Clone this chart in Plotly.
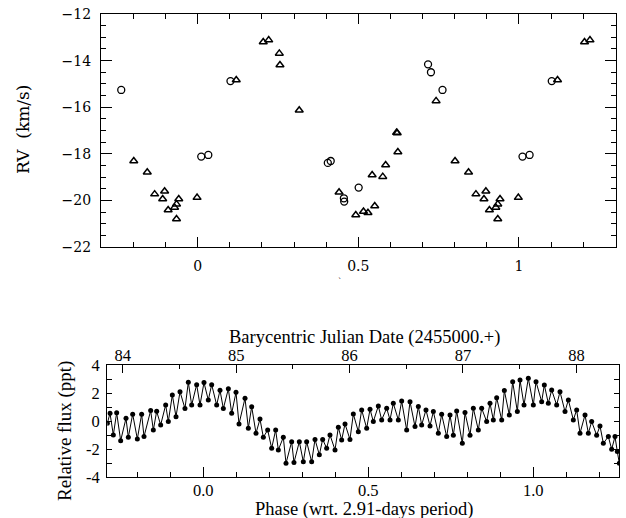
import plotly.graph_objects as go

# ---- RV data (phase folded, 0..1) ----
circ_phase = [0.011, 0.033, 0.102, 0.405, 0.414, 0.455, 0.456, 0.501, 0.717, 0.726, 0.762]
circ_rv = [-18.12, -18.05, -14.88, -18.39, -18.31, -19.91, -20.05, -19.45, -14.16, -14.50, -15.26]

tri_phase = [0.120, 0.204, 0.221, 0.254, 0.256, 0.316, 0.440, 0.492, 0.516, 0.530,
             0.551, 0.543, 0.576, 0.585, 0.619, 0.621, 0.623, 0.742, 0.801, 0.843,
             0.866, 0.897, 0.891, 0.908, 0.928, 0.934, 0.941, 0.934, 0.998]
tri_rv = [-14.83, -13.20, -13.12, -13.69, -14.19, -16.13, -19.65, -20.63, -20.48, -20.53,
          -20.24, -18.91, -18.98, -18.48, -17.09, -17.11, -17.92, -15.73, -18.31, -18.79,
          -19.73, -19.61, -19.94, -20.41, -20.30, -20.16, -19.94, -20.80, -19.88]

# ---- light curve (phase, relative flux in ppt) ----
lc_phase = [-0.2908, -0.2827, -0.2726, -0.2625, -0.2504, -0.2342, -0.2272, -0.2140, -0.1999, -0.1868,
            -0.1797, -0.1595, -0.1514, -0.1413, -0.1292, -0.1140, -0.1060, -0.0938, -0.0827, -0.0706,
            -0.0555, -0.0454, -0.0352, -0.0201, -0.0100, 0.0021, 0.0152, 0.0254, 0.0405, 0.0506,
            0.0607, 0.0759, 0.0860, 0.0991, 0.1082, 0.1264, 0.1365, 0.1466, 0.1597, 0.1718,
            0.1819, 0.1951, 0.2072, 0.2193, 0.2274, 0.2425, 0.2506, 0.2678, 0.2748, 0.2910,
            0.3031, 0.3132, 0.3284, 0.3385, 0.3516, 0.3617, 0.3738, 0.3839, 0.3991, 0.4092,
            0.4193, 0.4294, 0.4445, 0.4546, 0.4698, 0.4799, 0.4951, 0.5052, 0.5152, 0.5304,
            0.5405, 0.5557, 0.5658, 0.5758, 0.5910, 0.6011, 0.6163, 0.6264, 0.6415, 0.6516,
            0.6617, 0.6748, 0.6870, 0.6971, 0.7122, 0.7223, 0.7375, 0.7476, 0.7577, 0.7678,
            0.7849, 0.7930, 0.8082, 0.8183, 0.8334, 0.8435, 0.8587, 0.8688, 0.8789, 0.8890,
            0.9042, 0.9122, 0.9274, 0.9375, 0.9516, 0.9597, 0.9718, 0.9849, 1.0001, 1.0082,
            1.0254, 1.0334, 1.0455, 1.0557, 1.0708, 1.0809, 1.0961, 1.1062, 1.1213, 1.1314,
            1.1415, 1.1567, 1.1668, 1.1769, 1.1920, 1.2021, 1.2122, 1.2274, 1.2375, 1.2476,
            1.2546, 1.2607]
lc_flux = [-0.15, 0.56, -0.98, 0.60, -1.39, 0.20, -1.15, 0.50, -1.27, 0.50,
           -1.10, 0.75, -0.63, 0.70, -0.27, 1.15, -0.03, 1.86, 0.32, 2.10,
           0.90, 2.77, 1.15, 2.60, 1.15, 2.75, 1.50, 2.60, 1.15, 2.20,
           0.90, 2.30, 0.56, 2.05, -0.20, 1.63, -0.50, 1.03, -0.86, 0.15,
           -1.15, -0.63, -1.93, -0.63, -2.05, -1.15, -3.00, -1.46, -2.95, -1.46,
           -2.90, -1.46, -2.90, -1.30, -2.40, -1.30, -1.93, -0.98, -2.05, -0.44,
           -1.34, -0.20, -1.30, 0.51, -0.75, 0.80, -0.51, 0.85, -0.03, 1.08,
           0.09, 0.92, 0.09, 1.27, 0.09, 1.43, -0.63, 1.39, -0.39, 1.04,
           -0.27, 0.80, -0.34, 0.68, -0.86, 0.49, -1.10, 0.44, -1.00, 0.73,
           -1.58, 0.61, -1.00, 0.92, -0.63, 0.92, -0.03, 1.27, 0.09, 1.67,
           0.09, 2.18, 0.44, 2.81, 0.68, 2.93, 1.15, 3.05, 1.15, 2.81,
           1.39, 2.58, 1.27, 2.22, 1.15, 2.10, 0.68, 1.51, 0.09, 0.80,
           -0.86, 0.44, -0.86, -0.03, -1.00, -0.34, -1.58, -1.10, -2.00, -1.10,
           -2.17, -3.00]

bjd0 = 84.71      # BJD-2455000 of phase zero
period = 2.91     # days


def unfold(ph, v, lo=-0.25, hi=1.25):
    xx, yy = [], []
    for p, y in zip(ph, v):
        for k in (-1, 0, 1):
            if lo <= p + k <= hi:
                xx.append(p + k)
                yy.append(y)
    return xx, yy


cx, cy = unfold(circ_phase, circ_rv)
tx, ty = unfold(tri_phase, tri_rv)

W, H = 626, 518
fig = go.Figure()

fig.add_trace(go.Scatter(x=cx, y=cy, mode='markers', xaxis='x', yaxis='y',
                         marker=dict(symbol='circle-open', size=7, color='black',
                                     line=dict(width=1.3, color='black')),
                         showlegend=False))
fig.add_trace(go.Scatter(x=tx, y=ty, mode='markers', xaxis='x', yaxis='y',
                         marker=dict(symbol='triangle-up-open', size=7, color='black',
                                     line=dict(width=1.5, color='black')),
                         showlegend=False))

fig.add_trace(go.Scatter(x=lc_phase, y=lc_flux, mode='lines+markers', xaxis='x2', yaxis='y2',
                         line=dict(color='black', width=1),
                         marker=dict(size=5, color='black'),
                         showlegend=False))
# same points against BJD so the top axis is drawn
fig.add_trace(go.Scatter(x=[bjd0 + period * p for p in lc_phase], y=lc_flux, mode='markers',
                         xaxis='x3', yaxis='y2', marker=dict(size=1, opacity=0),
                         hoverinfo='skip', showlegend=False))

top_font = dict(family='DejaVu Serif', size=14, color='black')
bot_font = dict(family='Liberation Serif', size=16.5, color='black')

ax_common = dict(showline=True, linecolor='black', linewidth=1.3, mirror='ticks',
                 ticks='inside', tickcolor='black', tickwidth=1.2, showgrid=False,
                 zeroline=False, automargin=False)

fig.update_layout(
    width=W, height=H, margin=dict(l=0, r=0, t=0, b=0),
    paper_bgcolor='white', plot_bgcolor='white',
    xaxis=dict(ax_common, domain=[101 / W, 616 / W], anchor='y', range=[-0.301, 1.302],
               dtick=0.5, tick0=0, ticklen=10, tickfont=top_font, ticklabelstandoff=6,
               minor=dict(dtick=0.1, tick0=0, ticks='inside', ticklen=5, tickcolor='black', tickwidth=1.2)),
    yaxis=dict(ax_common, domain=[1 - 247 / H, 1 - 14 / H], anchor='x', range=[-22, -12],
               dtick=2, ticklen=11, tickfont=top_font, ticklabelstandoff=6,
               minor=dict(dtick=0.5, ticks='inside', ticklen=5, tickcolor='black', tickwidth=1.2)),
    xaxis2=dict(ax_common, mirror=False, domain=[107.3 / W, 619.3 / W], anchor='y2',
                range=[-0.2909, 1.2606], dtick=0.5, tick0=0, tickformat='.1f', ticklen=10,
                tickfont=bot_font, ticklabelstandoff=-2,
                minor=dict(dtick=0.1, tick0=0, ticks='inside', ticklen=5, tickcolor='black', tickwidth=1.2)),
    xaxis3=dict(ax_common, mirror=False, overlaying='x2', side='top', anchor='y2',
                range=[bjd0 + period * -0.2909, bjd0 + period * 1.2606], dtick=1, ticklen=8,
                tickfont=bot_font, ticklabelstandoff=-4,
                minor=dict(dtick=0.5, ticks='inside', ticklen=4, tickcolor='black', tickwidth=1.2)),
    yaxis2=dict(ax_common, domain=[1 - 477.3 / H, 1 - 365 / H], anchor='x2', range=[-4, 4],
                tickvals=[-4, -2, 0, 2, 4], ticktext=['-4', '-2', '0', '2', '4'], ticklen=5,
                tickfont=bot_font, ticklabelstandoff=3,
                minor=dict(dtick=1, ticks='inside', ticklen=5, tickcolor='black', tickwidth=1.2)),
)

labels = [
    (23, 130, 'RV  (km/s)', -90, dict(family='DejaVu Serif', size=17, color='black')),
    (65, 431, 'Relative flux (ppt)', -90, dict(family='Liberation Serif', size=19, color='black')),
    (364, 509, 'Phase (wrt. 2.91-days period)', 0, dict(family='Liberation Serif', size=18.5, color='black')),
    (364, 337, 'Barycentric Julian Date (2455000.+)', 0, dict(family='Liberation Serif', size=18.5, color='black')),
    (340, 281, '`', 0, dict(family='DejaVu Serif', size=8, color='black')),
]
for px, py, txt, ang, fnt in labels:
    fig.add_annotation(x=px / W, y=1 - py / H, xref='paper', yref='paper', text=txt,
                       textangle=ang, showarrow=False, xanchor='center', yanchor='middle', font=fnt)

fig.write_html("out.html", config={'displayModeBar': False},
               post_script="document.body.style.margin='0';")
